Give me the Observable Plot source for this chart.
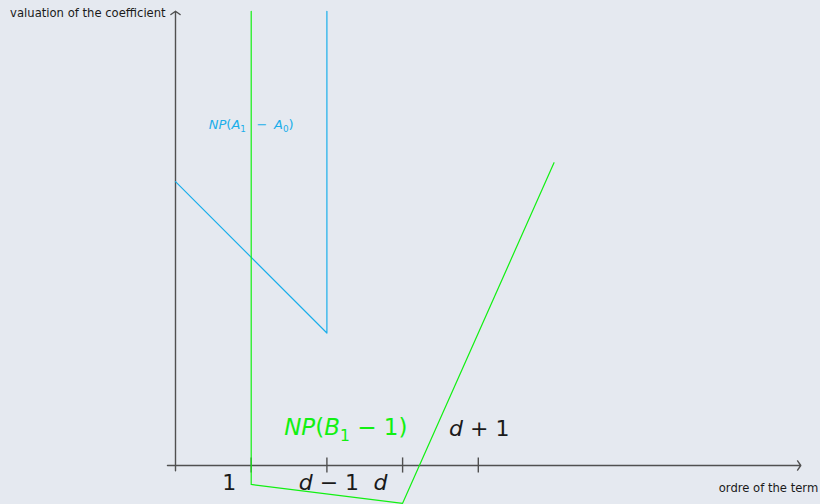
<!DOCTYPE html>
<html>
<head>
<meta charset="utf-8">
<script src="https://cdn.jsdelivr.net/npm/d3@7"></script>
<script src="https://cdn.jsdelivr.net/npm/@observablehq/plot@0.6"></script>
<style>
  html, body { margin: 0; padding: 0; background: #e5e9f0; }
  #chart svg { display: block; }
</style>
</head>
<body>
<div id="chart"></div>
<script>
// Newton polygon of A1 - A0 (order of term, valuation)
const npAOrder = [0, 2, 2];
const npAValuation = [3.75, 1.75, 6];
// Newton polygon of B1 - 1
const npBOrder = [1, 1, 3, 5];
const npBValuation = [6, -0.25, -0.5, 4];
// x-axis ticks and their labels
const tickOrders = [1, 2, 3, 4];
const tickLabels = ["1", "d − 1", "d", "d + 1"];
const tickPlacement = ["below left", "below", "below left", "above"];
// curve labels
const curveLabels = ["NP(A1 \u2002−\u2002A0)", "NP(B1 − 1)"];
const curveLabelOrder = [1, 2.25];
const curveLabelValuation = [4.5, 0.5];
// axis titles
const xTitle = "ordre of the term";
const yTitle = "valuation of the coefficient";

const W = 820, H = 504;
const unit = 75.7;            // pixels per unit on both axes
const originX = 175, originY = 465;

const colA = "#1aaeea";
const colB = "#12f012";
const axisCol = "#505050";
const font = "DejaVu Sans, sans-serif";

const pathA = npAOrder.map((x, i) => ({x, y: npAValuation[i]}));
const pathB = npBOrder.map((x, i) => ({x, y: npBValuation[i]}));
const ticks = tickOrders.map((x, i) => ({x, label: tickLabels[i], place: tickPlacement[i]}));
const curves = curveLabels.map((label, i) => ({label, x: curveLabelOrder[i], y: curveLabelValuation[i]}));

const offsets = {
  "below left": {dx: -22, dy: 17},
  "below": {dx: 2, dy: 17},
  "above": {dx: 1, dy: -37}
};

const tickMarks = Object.entries(offsets).map(([place, o]) =>
  Plot.text(ticks.filter(d => d.place === place), {
    x: "x", y: 0, text: "label", dx: o.dx, dy: o.dy,
    fontSize: 22, fill: "#1a1a1a", fontFamily: font, className: "math"
  })
);

const chart = Plot.plot({
  width: W,
  height: H,
  margin: 0,
  style: {background: "#e5e9f0", overflow: "visible"},
  x: {domain: [-originX / unit, (W - originX) / unit], range: [0, W], axis: null},
  y: {domain: [(originY - H) / unit, originY / unit], range: [H, 0], axis: null},
  marks: [
    // axes with arrow heads
    Plot.arrow([{x1: -0.106, y1: 0, x2: 8.26, y2: 0}], {
      x1: "x1", y1: "y1", x2: "x2", y2: "y2",
      stroke: axisCol, strokeWidth: 1.4, headLength: 6, headAngle: 110
    }),
    Plot.arrow([{x1: 0, y1: -0.07, x2: 0, y2: 6.0}], {
      x1: "x1", y1: "y1", x2: "x2", y2: "y2",
      stroke: axisCol, strokeWidth: 1.4, headLength: 6, headAngle: 110
    }),
    Plot.ruleX(ticks, {x: "x", y1: -0.1, y2: 0.1, stroke: axisCol, strokeWidth: 1.4}),
    // Newton polygons
    Plot.line(pathA, {x: "x", y: "y", stroke: colA, strokeWidth: 1.2}),
    Plot.line(pathB, {x: "x", y: "y", stroke: colB, strokeWidth: 1.2}),
    ...tickMarks,
    Plot.text(curves.slice(0, 1), {
      x: "x", y: "y", text: "label", fontSize: 13, fill: colA, fontFamily: font, className: "math"
    }),
    Plot.text(curves.slice(1), {
      x: "x", y: "y", text: "label", fontSize: 23, fill: colB, fontFamily: font, className: "math"
    }),
    // axis titles
    Plot.text([yTitle], {
      x: -0.13, y: 5.97, text: d => d, textAnchor: "end", fontSize: 11.6, fill: "#1a1a1a", fontFamily: font
    }),
    Plot.text([xTitle], {
      x: 8.49, y: -0.30, text: d => d, textAnchor: "end", fontSize: 11.6, fill: "#1a1a1a", fontFamily: font
    })
  ]
});

// Typeset formula labels: letters italic, digits following a letter as subscripts
const SVGNS = "http://www.w3.org/2000/svg";
chart.querySelectorAll(".math text").forEach(el => {
  const size = parseFloat(el.closest("g").getAttribute("font-size")) || 20;
  const s = el.textContent;
  el.textContent = "";
  let prevLetter = false;
  let shift = 0;
  for (const tok of s.match(/[A-Za-z]+|\d+|[^A-Za-z\d]+/g)) {
    const t = document.createElementNS(SVGNS, "tspan");
    t.textContent = tok;
    if (/^[A-Za-z]/.test(tok)) {
      t.setAttribute("font-style", "italic");
      if (shift) { t.setAttribute("dy", -shift); shift = 0; }
      prevLetter = true;
    } else if (/^\d/.test(tok) && prevLetter) {
      shift = size * 0.25;
      t.setAttribute("font-size", size * 0.68);
      t.setAttribute("dy", shift);
      prevLetter = false;
    } else {
      if (shift) { t.setAttribute("dy", -shift); shift = 0; }
      prevLetter = false;
    }
    el.appendChild(t);
  }
});

document.getElementById("chart").appendChild(chart);
</script>
</body>
</html>
